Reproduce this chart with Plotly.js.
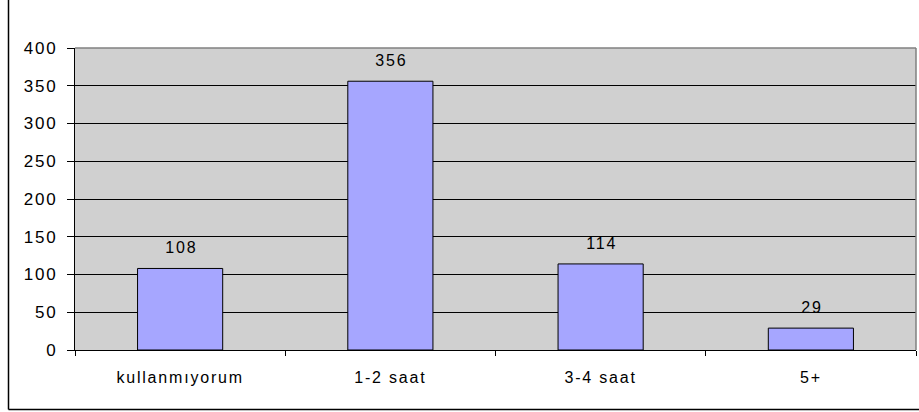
<!DOCTYPE html>
<html><head><meta charset="utf-8">
<script src="https://cdn.plot.ly/plotly-3.0.1.min.js"></script>
<style>html,body{margin:0;padding:0;background:#fff}#c{width:919px;height:412px}
#c svg text{letter-spacing:1.8px}</style>
</head><body><div id="c"></div>
<script>
const categories = ["kullanmıyorum", "1-2 saat", "3-4 saat", "5+"];
const values = [108, 356, 114, 29];
const yTicks = [0, 50, 100, 150, 200, 250, 300, 350, 400];

const W = 919, H = 412, L = 75, R = 3, T = 48, B = 62;
const pw = W - L - R, ph = H - T - B;
const px = v => (v - L) / pw;
const py = v => (H - B - v) / ph;
const FONT = 'Liberation Sans, Arial, sans-serif';

const trace = {
  type: 'bar', x: categories, y: values,
  marker: {color: '#A6A6FF', line: {color: '#000', width: 1}},
  width: 0.405, hoverinfo: 'none'
};
const annotations = categories.map((c, i) => ({
  x: c, y: values[i], xref: 'x', yref: 'y', text: String(values[i]),
  showarrow: false, yanchor: 'bottom', yshift: 10, xshift: 1,
  font: {family: FONT, size: 16, color: '#000'}
}));
const layout = {
  width: W, height: H,
  margin: {l: L, r: R, t: T, b: B, pad: 0},
  paper_bgcolor: '#fff', plot_bgcolor: '#D0D0D0',
  showlegend: false, bargap: 0.595,
  font: {family: FONT, size: 16, color: '#000'},
  xaxis: {
    type: 'category', showgrid: false, showline: true, linecolor: '#000', linewidth: 1,
    ticks: 'outside', tickson: 'boundaries', ticklen: 5, tickcolor: '#000',
    ticklabelstandoff: 13, fixedrange: true
  },
  yaxis: {
    range: [0, 400], tickvals: yTicks, showgrid: true, gridcolor: '#000', gridwidth: 1,
    showline: true, linecolor: '#000', linewidth: 1, zeroline: false,
    ticks: 'outside', ticklen: 7, tickcolor: '#000', ticklabelstandoff: 6, fixedrange: true,
    tickfont: {family: FONT, size: 17, color: '#000'}
  },
  annotations: annotations,
  shapes: [
    {type: 'line', xref: 'paper', yref: 'paper', x0: 1, x1: 1, y0: 0, y1: 1, line: {color: '#808080', width: 1.5}},
    {type: 'line', xref: 'paper', yref: 'paper', x0: 0, x1: 1, y0: 1, y1: 1, line: {color: '#808080', width: 1.5}},
    {type: 'line', xref: 'paper', yref: 'paper', x0: px(8.5), x1: px(8.5), y0: py(409.5), y1: py(-5), line: {color: '#000', width: 1.5}},
    {type: 'line', xref: 'paper', yref: 'paper', x0: px(8.5), x1: px(925), y0: py(409.5), y1: py(409.5), line: {color: '#000', width: 1.5}}
  ]
};
Plotly.newPlot('c', [trace], layout, {staticPlot: true, displayModeBar: false});
</script></body></html>
